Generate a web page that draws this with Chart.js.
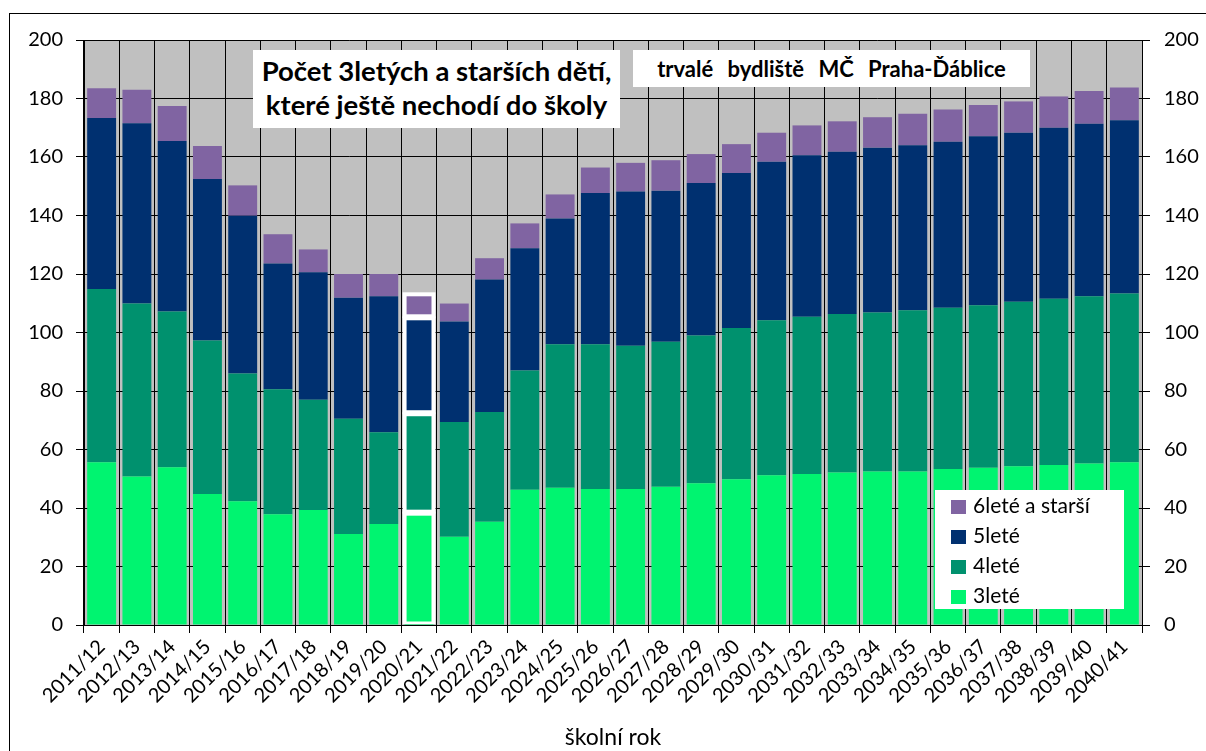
<!DOCTYPE html>
<html><head><meta charset="utf-8">
<script src="https://cdn.jsdelivr.net/npm/chart.js@4"></script>
<style>
html,body{margin:0;padding:0;background:#fff;overflow:hidden;}
#wrap{position:relative;width:1206px;height:751px;overflow:hidden;}
#frame{position:absolute;left:9px;top:13px;width:1400px;height:900px;border:1px solid #000;}
canvas{position:absolute;left:0;top:0;}
.box{position:absolute;background:#fff;font-family:Lato,sans-serif;font-weight:bold;color:#000;text-align:center;white-space:nowrap;}
#t1{left:253px;top:50px;width:367px;height:78px;font-size:27.5px;line-height:34px;padding-top:4px;box-sizing:border-box;}
#t2{left:633px;top:50px;width:397px;height:37px;font-size:22px;line-height:37px;word-spacing:9px;}
#legend{position:absolute;left:935px;top:490px;width:189px;height:119px;background:#fff;font-family:Lato,sans-serif;font-size:21px;color:#000;}
#legend .row{position:absolute;left:16px;height:30px;line-height:30px;white-space:nowrap;}
#legend .mk{display:inline-block;width:15px;height:14px;margin-right:7px;vertical-align:-1px;}
</style></head>
<body><div id="wrap">
<div id="frame"></div>
<canvas id="c" width="1206" height="751"></canvas>
<div class="box" id="t1">Počet 3letých a starších dětí,<br>které ještě nechodí do školy</div>
<div class="box" id="t2">trvalé bydliště MČ Praha-Ďáblice</div>
<div id="legend"></div>
</div>
<script>
const categories = ['2011/12','2012/13','2013/14','2014/15','2015/16','2016/17','2017/18','2018/19','2019/20','2020/21','2021/22','2022/23','2023/24','2024/25','2025/26','2026/27','2027/28','2028/29','2029/30','2030/31','2031/32','2032/33','2033/34','2034/35','2035/36','2036/37','2037/38','2038/39','2039/40','2040/41'];
const age3 = [55.6,50.8,53.9,44.8,42.3,37.9,39.3,31.1,34.5,38.4,30.2,35.3,46.2,46.9,46.5,46.5,47.3,48.5,49.8,51.2,51.6,52.1,52.5,52.5,53.3,53.8,54.3,54.7,55.2,55.6];
const age4 = [59.3,59.1,53.3,52.5,43.7,42.7,37.7,39.4,31.4,34.0,39.2,37.5,40.8,49.1,49.5,49.0,49.5,50.5,51.7,53.0,53.8,54.2,54.3,55.1,55.2,55.5,56.2,56.8,57.2,57.7];
const age5 = [58.4,61.6,58.3,55.2,53.9,43.0,43.6,41.4,46.5,32.8,34.4,45.3,41.8,43.0,51.7,52.7,51.7,52.1,53.0,54.2,55.2,55.5,56.4,56.4,56.7,57.8,57.8,58.5,59.0,59.3];
const age6 = [10.2,11.5,11.9,11.3,10.4,10.0,7.8,8.1,7.6,8.2,6.1,7.3,8.5,8.2,8.7,9.8,10.4,9.9,9.9,9.9,10.2,10.4,10.4,10.8,11.0,10.7,10.7,10.7,11.2,11.2];
const seriesNames = ['3leté','4leté','5leté','6leté a starší'];
const seriesColors = ['#00F470','#00916E','#003070','#8064A2'];
const highlightedYear = '2020/21';
const yTicks = [0,20,40,60,80,100,120,140,160,180,200];

const seriesValues = [age3, age4, age5, age6];

// HTML legend (reverse order like the original)
const lg = document.getElementById('legend');
for (let i = seriesNames.length - 1, r = 0; i >= 0; i--, r++) {
  const d = document.createElement('div');
  d.className = 'row';
  d.style.top = (r * 30) + 'px';
  d.innerHTML = '<span class="mk" style="background:' + seriesColors[i] + '"></span>' + seriesNames[i];
  lg.appendChild(d);
}

const bgPlugin = {
  id: 'bg',
  beforeDraw(chart) {
    const {ctx, chartArea: a} = chart;
    ctx.save();
    ctx.fillStyle = '#C0C0C0';
    ctx.fillRect(a.left, a.top, a.right - a.left, a.bottom - a.top);
    ctx.restore();
  }
};
const hlPlugin = {
  id: 'hl',
  afterDatasetsDraw(chart) {
    const idx = categories.indexOf(highlightedYear);
    if (idx < 0) return;
    const {ctx, chartArea: a} = chart;
    ctx.save();
    ctx.beginPath();
    ctx.rect(a.left, a.top - 5, a.right - a.left, a.bottom - a.top + 4);
    ctx.clip();
    ctx.strokeStyle = '#FFFFFF';
    ctx.lineWidth = 4;
    chart.data.datasets.forEach((ds, di) => {
      const el = chart.getDatasetMeta(di).data[idx];
      if (!el) return;
      const p = el.getProps(['x','y','base','width'], true);
      const top = Math.min(p.y, p.base), bot = Math.max(p.y, p.base);
      ctx.strokeRect(p.x - p.width / 2, top + 1, p.width, bot - top - 2);
    });
    ctx.restore();
  }
};

const FONT = 'Lato';
new Chart(document.getElementById('c'), {
  type: 'bar',
  data: {
    labels: categories,
    datasets: seriesValues.map((vals, i) => ({
      label: seriesNames[i],
      data: vals,
      backgroundColor: seriesColors[i],
      borderWidth: 0,
      barPercentage: 0.82,
      categoryPercentage: 1.0,
      yAxisID: 'y'
    }))
  },
  options: {
    responsive: false,
    animation: false,
    devicePixelRatio: 1,
    layout: {padding: {top: 40, left: 0, right: 0, bottom: 0}},
    plugins: {legend: {display: false}, tooltip: {enabled: false}},
    scales: {
      x: {
        stacked: true,
        grid: {offset: true, color: '#000', lineWidth: 1, drawTicks: true, tickLength: 8, tickColor: '#000'},
        border: {color: '#000', width: 1},
        ticks: {autoSkip: false, minRotation: 45, maxRotation: 45, color: '#000', font: {family: FONT, size: 20}, padding: 2},
        title: {display: true, text: 'školní rok', color: '#000', font: {family: FONT, size: 23}, padding: {top: 0, bottom: 0}},
        afterFit(s) { s.height = 126; }
      },
      y: {
        stacked: true, min: 0, max: 200,
        grid: {color: '#000', lineWidth: 1, tickLength: 8, tickColor: '#000'},
        border: {color: '#000', width: 1},
        ticks: {stepSize: 20, color: '#000', font: {family: FONT, size: 20}, padding: 13},
        afterBuildTicks(s) { s.ticks = yTicks.map(v => ({value: v})); },
        afterFit(s) { s.width = 84; }
      },
      y2: {
        position: 'right', min: 0, max: 200,
        grid: {drawOnChartArea: false, color: '#000', tickLength: 8, tickColor: '#000'},
        border: {color: '#000', width: 1},
        ticks: {stepSize: 20, color: '#000', font: {family: FONT, size: 20}, padding: 14},
        afterBuildTicks(s) { s.ticks = yTicks.map(v => ({value: v})); },
        afterFit(s) { s.width = 64; }
      }
    }
  },
  plugins: [bgPlugin, hlPlugin]
});
</script>
</body></html>
